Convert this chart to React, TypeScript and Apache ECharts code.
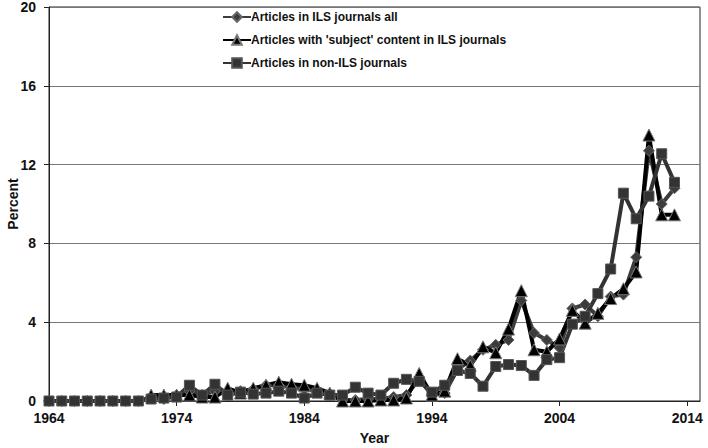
import React, { useEffect, useRef } from "react";
import * as echarts from "echarts";

const years: string[] = [];
for (let y = 1964; y <= 2015; y++) years.push(String(y));

// 1964..2013
const ilsAll = [
  0, 0, 0, 0, 0, 0, 0, 0, 0.2, 0.1,
  0.3, 0.5, 0.3, 0.5, 0.3, 0.5, 0.6, 0.8, 0.8, 0.7,
  0.6, 0.5, 0.3, 0.05, 0.05, 0.1, 0.1, 0.2, 0.3, 1.1,
  0.3, 0.4, 1.6, 2.05, 2.6, 2.85, 3.1, 5.1, 3.45, 3.1,
  2.7, 4.7, 4.9, 4.3, 5.3, 5.4, 7.3, 12.7, 10.0, 10.8,
];

const ilsSubject = [
  null, null, null, null, null, null, null, null, 0.3, 0.3,
  0.3, 0.3, 0.2, 0.2, 0.65, 0.4, 0.65, 0.8, 0.95, 0.85,
  0.8, 0.65, 0.4, 0, 0, 0, 0.05, 0.05, 0.15, 1.4,
  0.3, 0.5, 2.15, 1.8, 2.75, 2.45, 3.65, 5.6, 2.6, 2.5,
  3.15, 4.6, 3.95, 4.45, 5.2, 5.7, 6.55, 13.5, 9.45, 9.45,
];

const nonIls = [
  0, 0, 0, 0, 0, 0, 0, 0, 0.1, 0.15,
  0.2, 0.8, 0.3, 0.85, 0.3, 0.45, 0.35, 0.4, 0.5, 0.4,
  0.15, 0.4, 0.3, 0.3, 0.7, 0.4, 0.3, 0.9, 1.1, 1.0,
  0.45, 0.8, 1.55, 1.4, 0.75, 1.75, 1.85, 1.8, 1.3, 2.1,
  2.2, 3.9, 4.3, 5.45, 6.7, 10.55, 9.25, 10.4, 12.55, 11.1,
];

const seriesNames = [
  "Articles in ILS journals all",
  "Articles with 'subject' content in ILS journals",
  "Articles in non-ILS journals",
];

const yTicks = [0, 4, 8, 12, 16, 20];

export default function App() {
  const ref = useRef<HTMLDivElement>(null);
  useEffect(() => {
    if (!ref.current) return;
    const chart = echarts.init(ref.current, null, { renderer: "svg" });
    const font = "'Liberation Sans', Arial, sans-serif";
    chart.setOption({
      animation: false,
      backgroundColor: "#ffffff",
      textStyle: { fontFamily: font },
      grid: {
        left: 49, top: 7, width: 651, height: 394,
        containLabel: false, outerBoundsMode: "none",
        show: true, borderColor: "#222", borderWidth: 1,
      },
      legend: {
        orient: "vertical",
        left: 217,
        top: 6,
        itemWidth: 28,
        itemHeight: 12,
        itemGap: 11,
        textStyle: { fontFamily: font, fontWeight: "bold", fontSize: 12, color: "#111", padding: [0, 0, 0, -5] },
        data: seriesNames,
      },
      xAxis: {
        type: "category",
        data: years,
        boundaryGap: false,
        name: "Year",
        nameLocation: "middle",
        nameGap: 30,
        nameMoveOverlap: false,
        nameTextStyle: { fontWeight: "bold", fontSize: 14, color: "#111", fontFamily: font },
        axisLine: { lineStyle: { color: "#222", width: 1 } },
        axisTick: { show: true, interval: 9, length: 5, inside: false, lineStyle: { color: "#222" } },
        axisLabel: { interval: 9, fontWeight: "bold", fontSize: 14, color: "#111", margin: 10, fontFamily: font },
        splitLine: { show: false },
      },
      yAxis: {
        type: "value",
        min: yTicks[0],
        max: yTicks[yTicks.length - 1],
        interval: 4,
        name: "Percent",
        nameLocation: "middle",
        nameGap: 29,
        nameMoveOverlap: false,
        nameTextStyle: { fontWeight: "bold", fontSize: 14, color: "#111", fontFamily: font },
        axisLine: { show: true, lineStyle: { color: "#222", width: 1 } },
        axisTick: { show: true, length: 5, lineStyle: { color: "#222" } },
        axisLabel: { fontWeight: "bold", fontSize: 14, color: "#111", margin: 13, fontFamily: font },
        splitLine: { show: true, lineStyle: { color: "#777", width: 1 } },
      },
      series: [
        {
          name: seriesNames[0],
          type: "line",
          data: ilsAll,
          symbol: "diamond",
          symbolSize: 11,
          showAllSymbol: true,
          lineStyle: { color: "#3c3c3c", width: 4 },
          itemStyle: { color: "#3c3c3c", borderColor: "#666", borderWidth: 1 },
        },
        {
          name: seriesNames[1],
          type: "line",
          data: ilsSubject,
          symbol: "triangle",
          symbolSize: 12,
          showAllSymbol: true,
          lineStyle: { color: "#000", width: 4 },
          itemStyle: { color: "#000", borderColor: "#777", borderWidth: 1 },
        },
        {
          name: seriesNames[2],
          type: "line",
          data: nonIls,
          symbol: "rect",
          symbolSize: 10,
          showAllSymbol: true,
          lineStyle: { color: "#333333", width: 4 },
          itemStyle: { color: "#333333", borderColor: "#555", borderWidth: 1 },
        },
      ],
    });
    return () => chart.dispose();
  }, []);
  return <div ref={ref} style={{ width: 708, height: 448, position: "absolute", left: 0, top: 0 }} />;
}
